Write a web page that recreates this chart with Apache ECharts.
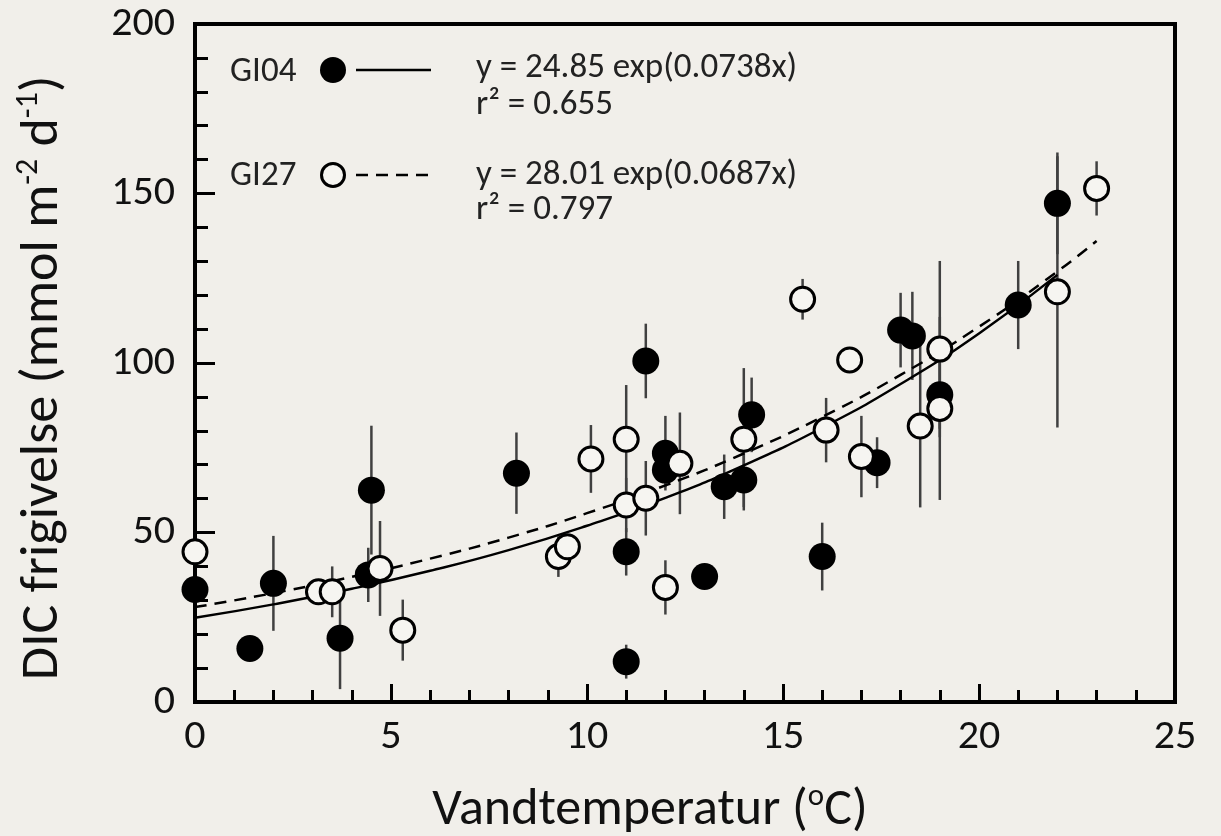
<!DOCTYPE html>
<html><head><meta charset="utf-8">
<script src="https://cdn.jsdelivr.net/npm/echarts@6/dist/echarts.min.js"></script>
<style>html,body{margin:0;padding:0;background:#f1efea;}#c{width:1221px;height:836px;}</style>
</head><body><div id="c"></div>
<script>
// GI04 (filled circles)
const gi04X   = [0, 1.4, 2.0, 3.7, 4.42, 4.5, 8.2, 11.0, 11.0, 11.5, 12.0, 12.0, 13.0, 13.5, 14.0, 14.2, 16.0, 17.4, 18.0, 18.3, 19.0, 21.0, 22.0];
const gi04Y   = [33.2, 15.8, 35, 18.8, 37.5, 62.5, 67.5, 44.3, 11.9, 100.6, 73.4, 68.4, 37, 63.5, 65.5, 84.7, 42.9, 70.6, 109.7, 108, 90.6, 117.1, 147.1];
const gi04Err = [0, 0, 14, 15, 8, 19, 12, 7, 5, 11, 11, 5, 0, 9.5, 8, 11, 10, 7.5, 11, 13, 10, 13, 15];
// GI27 (open circles)
const gi27X   = [0, 3.15, 3.5, 4.72, 5.3, 9.27, 9.5, 10.1, 11.0, 11.0, 11.5, 12.0, 12.37, 14.0, 15.5, 16.1, 16.7, 17.0, 18.5, 19.0, 19.0, 22.0, 23.0];
const gi27Y   = [44.3, 32.5, 32.5, 39.4, 21.2, 42.9, 45.8, 71.7, 77.5, 58.1, 60.1, 33.8, 70.4, 77.5, 118.8, 80.2, 100.9, 72.4, 81.4, 86.6, 104.1, 121, 151.5];
const gi27Err = [0, 0, 7.5, 14, 9, 6, 0, 10, 16, 8, 11, 8, 15, 21, 6, 9.5, 0, 12, 24, 27, 26, 40, 8];
// fitted curves
const fit04X = [0, 2, 4, 6, 8, 10, 12, 14, 16, 18, 20, 22];
const fit04Y = [24.85, 28.8, 33.4, 38.7, 44.8, 52.0, 60.2, 69.8, 80.9, 93.8, 108.7, 126.0];
const fit27X = [0, 2, 4, 6, 8, 10, 12, 14, 16, 18, 20, 22, 23];
const fit27Y = [28.0, 32.1, 36.9, 42.3, 48.5, 55.7, 63.9, 73.3, 84.1, 96.5, 110.7, 127.0, 136.0];
// texts
const seriesNames = ['GI04', 'GI27'];
const equations = ['y = 24.85 exp(0.0738x)', 'y = 28.01 exp(0.0687x)'];
const rSquared = ['r\u00B2 = 0.655', 'r\u00B2 = 0.797'];

const FONT = "Carlito, 'Liberation Sans Narrow', Lato, sans-serif";
const BG = '#f1efea';
const OPEN_FILL = '#f6f5f1';

function pts(xs, ys) { return xs.map((x, i) => [x, ys[i]]); }
function errs(xs, ys, es) {
  const out = [];
  xs.forEach((x, i) => { if (es[i] > 0) out.push([x, ys[i] - es[i], ys[i] + es[i]]); });
  return out;
}
function errSeries(data) {
  return {
    type: 'custom', z: 1, silent: true,
    data: data, encode: { x: 0, y: [1, 2] },
    renderItem: function (params, api) {
      const p1 = api.coord([api.value(0), api.value(1)]);
      const p2 = api.coord([api.value(0), api.value(2)]);
      return { type: 'line', shape: { x1: p1[0], y1: p1[1], x2: p2[0], y2: p2[1] },
               style: { stroke: '#404040', lineWidth: 2.5 } };
    }
  };
}
function label(x, y, text) {
  return { type: 'text', x: x, y: y, style: { text: text, fontSize: 35, fill: '#222', fontFamily: FONT, verticalAlign: 'middle', align: 'left' } };
}

const chart = echarts.init(document.getElementById('c'), null, { renderer: 'canvas' });
const tickStyle = { color: '#000', width: 3 };
chart.setOption({
  backgroundColor: BG,
  animation: false,
  grid: { left: 195, right: 46, top: 24, bottom: 134, outerBoundsMode: 'none', containLabel: false,
          show: true, borderColor: '#000', borderWidth: 4, backgroundColor: 'transparent' },
  xAxis: {
    type: 'value', min: 0, max: 25, interval: 5,
    axisLine: { show: true, onZero: false, lineStyle: { color: '#000', width: 4 } },
    axisTick: { show: true, inside: true, length: 18, lineStyle: tickStyle },
    minorTick: { show: true, splitNumber: 5, length: 12, lineStyle: tickStyle },
    splitLine: { show: false },
    axisLabel: { fontSize: 42, color: '#111', margin: 14, fontFamily: FONT },
    name: 'Vandtemperatur ({sup|o}C)', nameLocation: 'middle', nameGap: 80,
    nameTextStyle: { fontSize: 52, color: '#111', fontFamily: FONT, lineHeight: 58, padding: [0, 70, 0, 0],
      rich: { sup: { fontSize: 31, verticalAlign: 'top', lineHeight: 58, color: '#111', fontFamily: FONT } } }
  },
  yAxis: {
    type: 'value', min: 0, max: 200, interval: 50,
    axisLine: { show: true, onZero: false, lineStyle: { color: '#000', width: 4 } },
    axisTick: { show: true, inside: true, length: 20, lineStyle: tickStyle },
    minorTick: { show: true, splitNumber: 5, length: 13, lineStyle: tickStyle },
    splitLine: { show: false },
    axisLabel: { fontSize: 42, color: '#111', margin: 20, fontFamily: FONT },
    name: 'DIC frigivelse (mmol m{sup|-2} d{sup|-1})', nameLocation: 'middle', nameGap: 122, nameRotate: 90,
    nameTextStyle: { fontSize: 54, color: '#111', fontFamily: FONT, lineHeight: 60, padding: [0, 30, 0, 0],
      rich: { sup: { fontSize: 32, verticalAlign: 'top', lineHeight: 60, color: '#111', fontFamily: FONT } } }
  },
  series: [
    errSeries(errs(gi04X, gi04Y, gi04Err)),
    errSeries(errs(gi27X, gi27Y, gi27Err)),
    { type: 'line', z: 2, data: pts(fit04X, fit04Y), smooth: true, showSymbol: false, silent: true,
      lineStyle: { color: '#000', width: 2.5, type: 'solid' } },
    { type: 'line', z: 2, data: pts(fit27X, fit27Y), smooth: true, showSymbol: false, silent: true,
      lineStyle: { color: '#000', width: 2.5, type: [12, 8] } },
    { type: 'scatter', z: 3, name: seriesNames[0], data: pts(gi04X, gi04Y), symbol: 'circle', symbolSize: 27,
      itemStyle: { color: '#000', opacity: 1 } },
    { type: 'scatter', z: 4, name: seriesNames[1], data: pts(gi27X, gi27Y), symbol: 'circle', symbolSize: 24,
      itemStyle: { color: OPEN_FILL, borderColor: '#000', borderWidth: 3, opacity: 1 } }
  ],
  graphic: [
    label(230, 72, seriesNames[0]),
    { type: 'circle', shape: { cx: 333, cy: 70, r: 13 }, style: { fill: '#000' } },
    { type: 'line', shape: { x1: 356, y1: 70, x2: 431, y2: 70 }, style: { stroke: '#000', lineWidth: 2.5 } },
    label(476, 68, equations[0]),
    label(476, 105, rSquared[0]),
    label(230, 176, seriesNames[1]),
    { type: 'circle', shape: { cx: 333, cy: 175, r: 11.5 }, style: { fill: OPEN_FILL, stroke: '#000', lineWidth: 3 } },
    { type: 'line', shape: { x1: 356, y1: 175, x2: 431, y2: 175 }, style: { stroke: '#000', lineWidth: 2.5, lineDash: [12, 8] } },
    label(476, 175, equations[1]),
    label(476, 210, rSquared[1])
  ]
});
</script></body></html>
